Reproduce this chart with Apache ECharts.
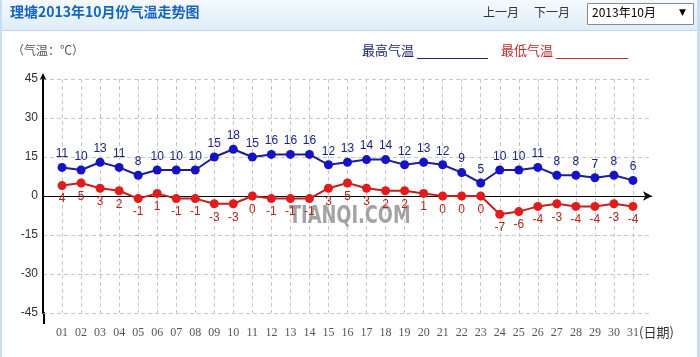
<!DOCTYPE html>
<html>
<head>
<meta charset="utf-8">
<script src="https://cdn.jsdelivr.net/npm/echarts@6/dist/echarts.min.js"></script>
<style>
html,body{margin:0;padding:0;background:#fff;}
#c{width:700px;height:357px;}
</style>
</head>
<body>
<div id="c"></div>
<script>
var days = ['01','02','03','04','05','06','07','08','09','10','11','12','13','14','15','16','17','18','19','20','21','22','23','24','25','26','27','28','29','30','31'];
var highTemps = [11,10,13,11,8,10,10,10,15,18,15,16,16,16,12,13,14,14,12,13,12,9,5,10,10,11,8,8,7,8,6];
var lowTemps = [4,5,3,2,-1,1,-1,-1,-3,-3,0,-1,-1,-1,3,5,3,2,2,1,0,0,0,-7,-6,-4,-3,-4,-4,-3,-4];
var yTicks = [-45,-30,-15,0,15,30,45];

var axisCats = [''].concat(days).concat(['']);
var highData = [null].concat(highTemps).concat([null]);
var lowData = [null].concat(lowTemps).concat([null]);

var chart = echarts.init(document.getElementById('c'), null, {renderer:'canvas', width:700, height:357});
var sans = 'Liberation Sans, Arial, sans-serif';
var cjk = 'Noto Sans CJK SC, sans-serif';

chart.setOption({
  animation:false,
  backgroundColor:'#fff',
  grid:{left:43, right:48, top:79, bottom:44, containLabel:false},
  xAxis:{
    type:'category', data:axisCats, boundaryGap:false,
    axisLine:{show:false}, axisTick:{show:false},
    axisLabel:{interval:0, margin:14, color:'#555', fontSize:12, fontFamily:'Liberation Serif, DejaVu Serif, serif'},
    splitLine:{show:true, interval:function(i){return i>0 && i<axisCats.length-1;}, lineStyle:{color:'#c8c8c8', type:[4,3], width:1}}
  },
  yAxis:{
    type:'value', min:yTicks[0], max:yTicks[yTicks.length-1], interval:15,
    axisLine:{show:true, lineStyle:{color:'#000', width:2}, symbol:['none','arrow'], symbolSize:[5,7], symbolOffset:[0,6]},
    axisTick:{show:false},
    axisLabel:{margin:5, color:'#333', fontSize:12, fontFamily:sans},
    splitLine:{show:true, lineStyle:{color:'#c8c8c8', type:[4,3], width:1}}
  },
  series:[
    {
      name:'最高气温', type:'line', data:highData, connectNulls:false,
      symbol:'circle', symbolSize:9,
      lineStyle:{color:'#1c1c9c', width:2},
      itemStyle:{color:'#1414c4'},
      label:{show:true, position:'top', distance:3, color:'#1a237e', fontSize:12, fontFamily:sans},
      z:5,
      markLine:{
        silent:true, symbol:['none','arrow'], symbolSize:[7,9],
        lineStyle:{color:'#000', type:'solid', width:1},
        label:{show:false},
        data:[{yAxis:0}], z:3
      }
    },
    {
      name:'最低气温', type:'line', data:lowData, connectNulls:false,
      symbol:'circle', symbolSize:9,
      lineStyle:{color:'#c81e1e', width:2},
      itemStyle:{color:'#e01c1c'},
      label:{show:true, position:'bottom', distance:3, color:'#b3261e', fontSize:12, fontFamily:sans},
      z:5
    }
  ],
  graphic:[
    {type:'rect', shape:{x:0,y:0,width:700,height:30}, style:{fill:new echarts.graphic.LinearGradient(0,0,0,1,[{offset:0,color:'#f4f9fd'},{offset:1,color:'#deedf9'}])}, z:-10},
    {type:'rect', shape:{x:0,y:30,width:700,height:1}, style:{fill:'#bcd7ee'}, z:-9},
    {type:'rect', shape:{x:0,y:0,width:2,height:357}, style:{fill:'#c6def2'}, z:-9},
    {type:'rect', shape:{x:697,y:0,width:3,height:357}, style:{fill:'#c6def2'}, z:-9},
    {type:'text', left:10, top:5, style:{text:'理塘2013年10月份气温走势图', fill:'#1565c0', font:'bold 14px '+cjk}},
    {type:'text', left:483, top:6, style:{text:'上一月', fill:'#333', font:'12px '+cjk}},
    {type:'text', left:534, top:6, style:{text:'下一月', fill:'#333', font:'12px '+cjk}},
    {type:'rect', shape:{x:587.5,y:3.5,width:106,height:21}, style:{fill:'#fff', stroke:'#8a8a8a', lineWidth:1}},
    {type:'text', left:592, top:6, style:{text:'2013年10月', fill:'#000', font:'12px '+cjk}},
    {type:'text', left:679, top:8, style:{text:'▼', fill:'#000', font:'9px DejaVu Sans'}},
    {type:'text', left:12, top:44, style:{text:'（气温：℃）', fill:'#555', font:'12px '+cjk}},
    {type:'text', left:362, top:44, style:{text:'最高气温', fill:'#1a237e', font:'13px '+cjk}},
    {type:'rect', shape:{x:417,y:58,width:71,height:1}, style:{fill:'#1a237e'}},
    {type:'text', left:501, top:44, style:{text:'最低气温', fill:'#c62828', font:'13px '+cjk}},
    {type:'rect', shape:{x:556,y:58,width:72,height:1}, style:{fill:'#c62828'}},
    {type:'rect', shape:{x:43,y:312,width:2,height:12}, style:{fill:'#000'}},
    {type:'text', left:639, top:326, style:{text:'(日期)', fill:'#333', font:'13px '+cjk}},
    {type:'text', x:289, y:205, scaleX:0.74, style:{text:'TIANQI.COM', fill:'rgba(140,140,140,0.8)', font:'bold 24px DejaVu Sans'}, z:1}
  ]
});
</script>
</body>
</html>
